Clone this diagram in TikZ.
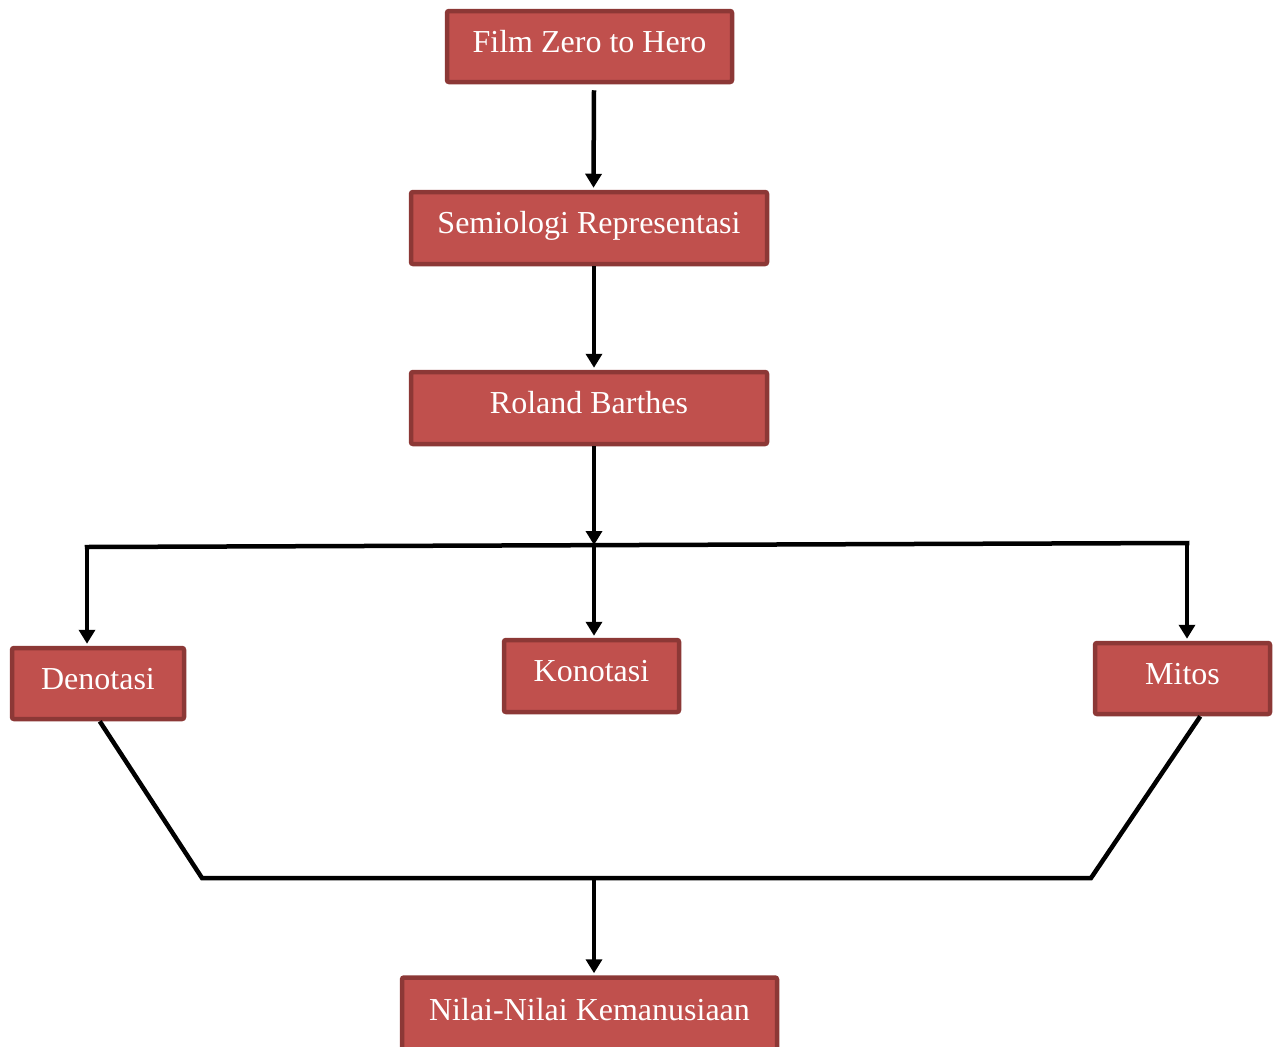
\documentclass[tikz,border=0pt]{standalone}
\usepackage{fontspec}
\setmainfont{Liberation Serif}
\usetikzlibrary{arrows.meta}
\definecolor{boxfill}{HTML}{C0504D}
\definecolor{boxline}{HTML}{8C3836}
\begin{document}
\begin{tikzpicture}[x=1pt,y=-1pt]
\tikzstyle{box}=[rectangle,fill=boxfill,draw=boxline,line width=4.5pt,rounded corners=2pt,text=white,font=\fontsize{32}{38}\selectfont,text height=21pt,text depth=10pt,inner sep=0pt]
\tikzstyle{link}=[line width=4.5pt,line cap=rect]
\tikzstyle{arrow}=[line width=4.5pt,-{Triangle[width=16pt,length=14pt]}]
\useasboundingbox (0,0) rectangle (1280,1047);
\node[box,minimum width=285pt,minimum height=71pt] (FZ) at (589.5, 46.5) {Film Zero to Hero};
\node[box,minimum width=356pt,minimum height=72pt] (SR) at (589, 228) {Semiologi Representasi};
\node[box,minimum width=356pt,minimum height=72pt] (RB) at (589, 408) {Roland Barthes};
\node[box,minimum width=172pt,minimum height=71pt] (DN) at (98, 683.5) {Denotasi};
\node[box,minimum width=175pt,minimum height=72pt] (KN) at (591.5, 676) {Konotasi};
\node[box,minimum width=175pt,minimum height=71pt] (MT) at (1182.5, 678.5) {Mitos};
\node[box,minimum width=375pt,minimum height=74pt] (NK) at (589.5, 1014.5) {Nilai-Nilai Kemanusiaan};
\coordinate (JL) at (87, 547);
\coordinate (JM) at (594, 545);
\coordinate (JR) at (1187, 543);
\coordinate (BL) at (202, 878);
\coordinate (BM) at (594, 878);
\coordinate (BR) at (1091, 878);
\draw[arrow] ([xshift=4.5pt,yshift=-6pt]FZ.south) -- ([xshift=4.5pt,yshift=2pt]SR.north);
\draw[arrow] ([xshift=5pt]SR.south) -- ([xshift=5pt,yshift=2pt]RB.north);
\draw[arrow] ([xshift=5pt]RB.south) -- (JM);
\draw[link] (JL) -- (JR);
\draw[arrow] (JL) -- ([xshift=-11pt,yshift=2pt]DN.north);
\draw[arrow] (JM) -- ([xshift=2.5pt,yshift=2pt]KN.north);
\draw[arrow] (JR) -- ([xshift=4.5pt,yshift=2pt]MT.north);
\draw[link] ([xshift=3pt,yshift=-2pt]DN.south) -- (BL) -- (BR) -- ([xshift=16.5pt,yshift=-2pt]MT.south);
\draw[arrow] (BM) -- ([xshift=4.5pt,yshift=2pt]NK.north);
\end{tikzpicture}
\end{document}
